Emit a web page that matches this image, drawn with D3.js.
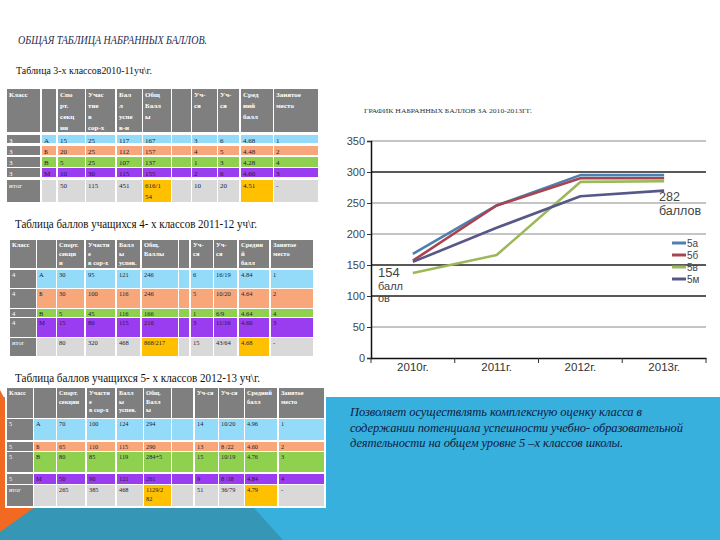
<!DOCTYPE html>
<html><head><meta charset="utf-8">
<script src="https://cdn.jsdelivr.net/npm/d3@7"></script>
<style>body{margin:0;background:#fff}svg{display:block}</style>
</head><body>
<script>
// ---------- DATA ----------
const years = ["2010г.", "2011г.", "2012г.", "2013г."];
const seriesNames = ["5а", "5б", "5в", "5м"];
const s5a = [168, 246, 295, 295];
const s5b = [157, 246, 290, 290];
const s5v = [137, 166, 284, 285];
const s5m = [155, 210, 261, 270];
const yTicks = [0, 50, 100, 150, 200, 250, 300, 350];
const seriesColors = ["#4f7fae", "#a8444f", "#9cb85a", "#575789"];

const pageTitle = "ОБЩАЯ ТАБЛИЦА  НАБРАННЫХ  БАЛЛОВ.";
const chartTitle = "ГРАФИК НАБРАННЫХ БАЛЛОВ ЗА 2010-2013ГГ.";
const note1 = ["154", "балл", "ов"];
const note2 = ["282", "баллов"];
const descLines = [
  "Позволяет осуществлять комплексную  оценку  класса  в",
  "содержании  потенциала  успешности  учебно- образовательной",
  "деятельности  на общем  уровне  5 –х классов   школы."
];
const descLens = [292, 333, 273];

const cap1 = "Таблица 3-х классов2010-11уч\\г.";
const head1 = ["Класс", "", "Спо|рт.|секц|ии", "Учас|тие|в|сор-х", "Бал|л|успе|в-и", "Общ|Балл|ы", "", "Уч-|ся", "Уч-|ся", "Сред|ний|балл", "Занятое|место"];
const rows1 = [
  ["3","А","15","25","117","167","","3","6","4.68","1"],
  ["3","Б","20","25","112","157","","4","5","4.48","2"],
  ["3","В","5","25","107","137","","1","3","4.28","4"],
  ["3","М","10","30","115","155","","2","6","4.60","3"],
  ["итог","","50","115","451","616/1|54","","10","20","4.51","-"]
];

const cap2 = "Таблица баллов учащихся 4- х классов 2011-12 уч\\г.";
const head2 = ["Класс", "", "Спорт.|секци|и", "Участи|е|в сор-х", "Балл|ы|успев.", "Общ.|Баллы", "", "Уч-|ся", "Уч-|ся", "Средни|й|балл", "Занятое|место"];
const rows2 = [
  ["4","А","30","95","121","246","","6","16/19","4.84","1"],
  ["4","Б","30","100","116","246","","5","10/20","4.64","2"],
  ["4","В","5","45","116","166","","1","6/9","4.64","4"],
  ["4","М","15","80","115","210","","3","11/16","4.60","3"],
  ["итог","","80","320","468","868/217","","15","43/64","4.68","-"]
];

const cap3 = "Таблица баллов учащихся 5- х классов 2012-13  уч\\г.";
const head3 = ["Класс", "", "Спорт.|секции", "Участи|е|в сор-х", "Балл|ы|успев.", "Общ.|Балл|ы", "", "Уч-ся", "Уч-ся", "Средний|балл", "Занятое|место"];
const rows3 = [
  ["5","А","70","100","124","294","","14","10/20","4.96","1"],
  ["5","Б","65","110","115","290","","13","8 /22","4.60","2"],
  ["5","В","80","85","119","284+5","","15","10/19","4.76","3"],
  ["5","М","50","90","121","261","","9","8 /18","4.84","4"],
  ["итог","","265","385","468","1129/2|82","","51","36/79","4.79","-"]
];

// ---------- LAYOUT ----------
const W = 720, H = 540;
const svg = d3.select("body").append("svg").attr("width", W).attr("height", H);

// background decoration
svg.append("rect").attr("x",0).attr("y",0).attr("width",W).attr("height",H).attr("fill","#fff");
svg.append("rect").attr("x",0).attr("y",397).attr("width",W).attr("height",H-397).attr("fill","#38b0de");
svg.append("polygon").attr("points","0,390 60,505 0,540").attr("fill","#f26a21");
svg.append("polygon").attr("points","35,507 253,507 283,540 0,540 0,532").attr("fill","#3596b6");

// page title
svg.append("text").attr("x",18).attr("y",44).text(pageTitle)
  .attr("font-family","Liberation Serif").attr("font-style","italic").attr("font-size",13.5)
  .attr("fill","#1f2a4f").attr("textLength",189).attr("lengthAdjust","spacingAndGlyphs");

// description
svg.append("g").selectAll("text").data(descLines).join("text")
  .attr("x",350).attr("y",(d,i)=>416+i*15.5).text(d=>d)
  .attr("textLength",(d,i)=>descLens[i]).attr("lengthAdjust","spacing")
  .attr("font-family","Liberation Serif").attr("font-style","italic").attr("font-size",12.5)
  .attr("fill","#0f1c3f");

// ---------- TABLES ----------
const rowColors = ["#93dbf9","#f8a77b","#8fd14f","#9a3cf0"];
const headGray = "#7f7f7f", itogGray = "#d9d9d9", hiColor = "#ffc000";

function drawTable(cfg){
  const g = svg.append("g");
  g.append("text").attr("x",cfg.capX).attr("y",cfg.capY).text(cfg.caption)
    .attr("font-family","Liberation Serif").attr("font-size",cfg.capSize).attr("fill","#111")
    .attr("textLength",cfg.capLen).attr("lengthAdjust","spacingAndGlyphs");
  const cols = cfg.cols, rws = cfg.rowsY;
  g.append("rect").attr("x",cols[0][0]-2).attr("y",rws[0][0]-2)
    .attr("width",cols[cols.length-1][1]-cols[0][0]+4).attr("height",rws[rws.length-1][1]-rws[0][0]+4)
    .attr("fill","#fff");
  const all = [cfg.head].concat(cfg.rows);
  all.forEach((row,ri)=>{
    row.forEach((cell,ci)=>{
      let fill, tc = "#1b1b3a";
      if (ri===0){ fill = headGray; tc = "#fff"; }
      else if (ri===all.length-1){
        fill = ci===0 ? headGray : ((ci===5||ci===9) ? hiColor : itogGray);
        if (ci===0) tc = "#fff";
      } else {
        fill = ci===0 ? headGray : rowColors[ri-1];
        if (ci===0) tc = "#fff";
      }
      const [x0,x1] = cols[ci], [y0,y1] = rws[ri];
      g.append("rect").attr("x",x0).attr("y",y0).attr("width",x1-x0).attr("height",y1-y0).attr("fill",fill);
      const lines = cell.split("|");
      lines.forEach((ln,li)=>{
        g.append("text").attr("x",x0+2).attr("y",y0+cfg.pad+li*cfg.lh).text(ln)
          .attr("font-family","Liberation Serif").attr("font-size",cfg.fs).attr("fill",tc)
          .attr("font-weight", ri===0 ? "bold" : "normal");
      });
    });
  });
}

drawTable({caption:cap1, capX:16, capY:74, capSize:10, capLen:136, head:head1, rows:rows1, fs:7, lh:11, pad:8,
  cols:[[7,40],[42,56],[58,85],[86,115],[117,142],[143,171],[172,191],[192,217],[218,239],[241,273],[274,318]],
  rowsY:[[89,132],[135,143],[146,155],[157,167],[168,177],[180,202]]});
drawTable({caption:cap2, capX:15, capY:228, capSize:12, capLen:242, head:head2, rows:rows2, fs:6.5, lh:9, pad:7,
  cols:[[10,36],[37,56],[57,84],[86,115],[117,140],[142,178],[179,189],[191,213],[214,237],[239,269],[271,313]],
  rowsY:[[240,268],[270,288],[289,308],[309,317],[318,337],[338,356]]});
drawTable({caption:cap3, capX:15, capY:382, capSize:12, capLen:245, head:head3, rows:rows3, fs:6.3, lh:8.5, pad:7,
  cols:[[7,33],[34,56],[57,85],[87,115],[117,143],[144,171],[172,193],[195,218],[219,244],[245,277],[279,324]],
  rowsY:[[388,418],[419,440],[442,451],[452,472],[474,484],[485,506]]});

// ---------- CHART ----------
const x = d3.scaleBand().domain(years).range([371,706]);
const y = d3.scaleLinear().domain([0,350]).range([358,141]);
const cg = svg.append("g");

cg.append("text").attr("x",364).attr("y",113).text(chartTitle)
  .attr("font-family","Liberation Serif").attr("font-size",6.8).attr("fill","#333")
  .attr("textLength",168).attr("lengthAdjust","spacingAndGlyphs");

// grid
const darkGrid = new Set([300,150,100]);
cg.append("g").selectAll("line").data(yTicks.filter(v=>v>0)).join("line")
  .attr("x1",371).attr("x2",706).attr("y1",d=>y(d)).attr("y2",d=>y(d))
  .attr("stroke",d=>darkGrid.has(d)?"#222":"#8a8a8a")
  .attr("stroke-width",d=>darkGrid.has(d)?1.6:1);

// y axis
const yAxis = cg.append("g").attr("transform","translate(371,0)")
  .call(d3.axisLeft(y).tickValues(yTicks).tickSize(4).tickPadding(2));
yAxis.select(".domain").attr("stroke","#111").attr("stroke-width",1.5);
yAxis.selectAll(".tick line").attr("stroke","#333");
yAxis.selectAll("text").attr("font-family","Liberation Sans").attr("font-size",11).attr("fill","#444");

// x axis
const xAxis = cg.append("g").attr("transform","translate(0,358)")
  .call(d3.axisBottom(x).tickSize(0).tickPadding(5));
xAxis.select(".domain").attr("stroke","#111").attr("stroke-width",1.5);
xAxis.selectAll("text").attr("font-family","Liberation Sans").attr("font-size",11.5).attr("fill","#333");
cg.append("g").selectAll("line").data(years.concat(["end"])).join("line")
  .attr("x1",(d,i)=>i<years.length?x(d):x.range()[1]).attr("x2",(d,i)=>i<years.length?x(d):x.range()[1])
  .attr("y1",358).attr("y2",363).attr("stroke","#333");

// series
const seriesData = [s5a, s5b, s5v, s5m];
const line = d3.line().x((d,i)=>x(years[i])+x.bandwidth()/2).y(d=>y(d));
cg.append("g").selectAll("path").data(seriesData).join("path")
  .attr("d",line).attr("fill","none")
  .attr("stroke",(d,i)=>seriesColors[i]).attr("stroke-width",2.6).attr("stroke-linejoin","round");

// annotations
cg.append("g").selectAll("text").data(note1).join("text")
  .attr("x",378).attr("y",(d,i)=>277+i*12.5).text(d=>d)
  .attr("font-family","Liberation Sans").attr("font-size",d=>d==="154"?13:11).attr("fill","#444");
cg.append("g").selectAll("text").data(note2).join("text")
  .attr("x",659).attr("y",(d,i)=>201+i*13.5).text(d=>d)
  .attr("font-family","Liberation Sans").attr("font-size",12.5).attr("fill","#444");

// legend
const lg = cg.append("g").selectAll("g").data(seriesNames).join("g")
  .attr("transform",(d,i)=>`translate(672,${243+i*12})`);
lg.append("line").attr("x1",0).attr("x2",14).attr("stroke",(d,i)=>seriesColors[i]).attr("stroke-width",3);
lg.append("text").attr("x",15).attr("y",3.5).text(d=>d)
  .attr("font-family","Liberation Sans").attr("font-size",10).attr("fill","#444");
</script>
</body></html>
